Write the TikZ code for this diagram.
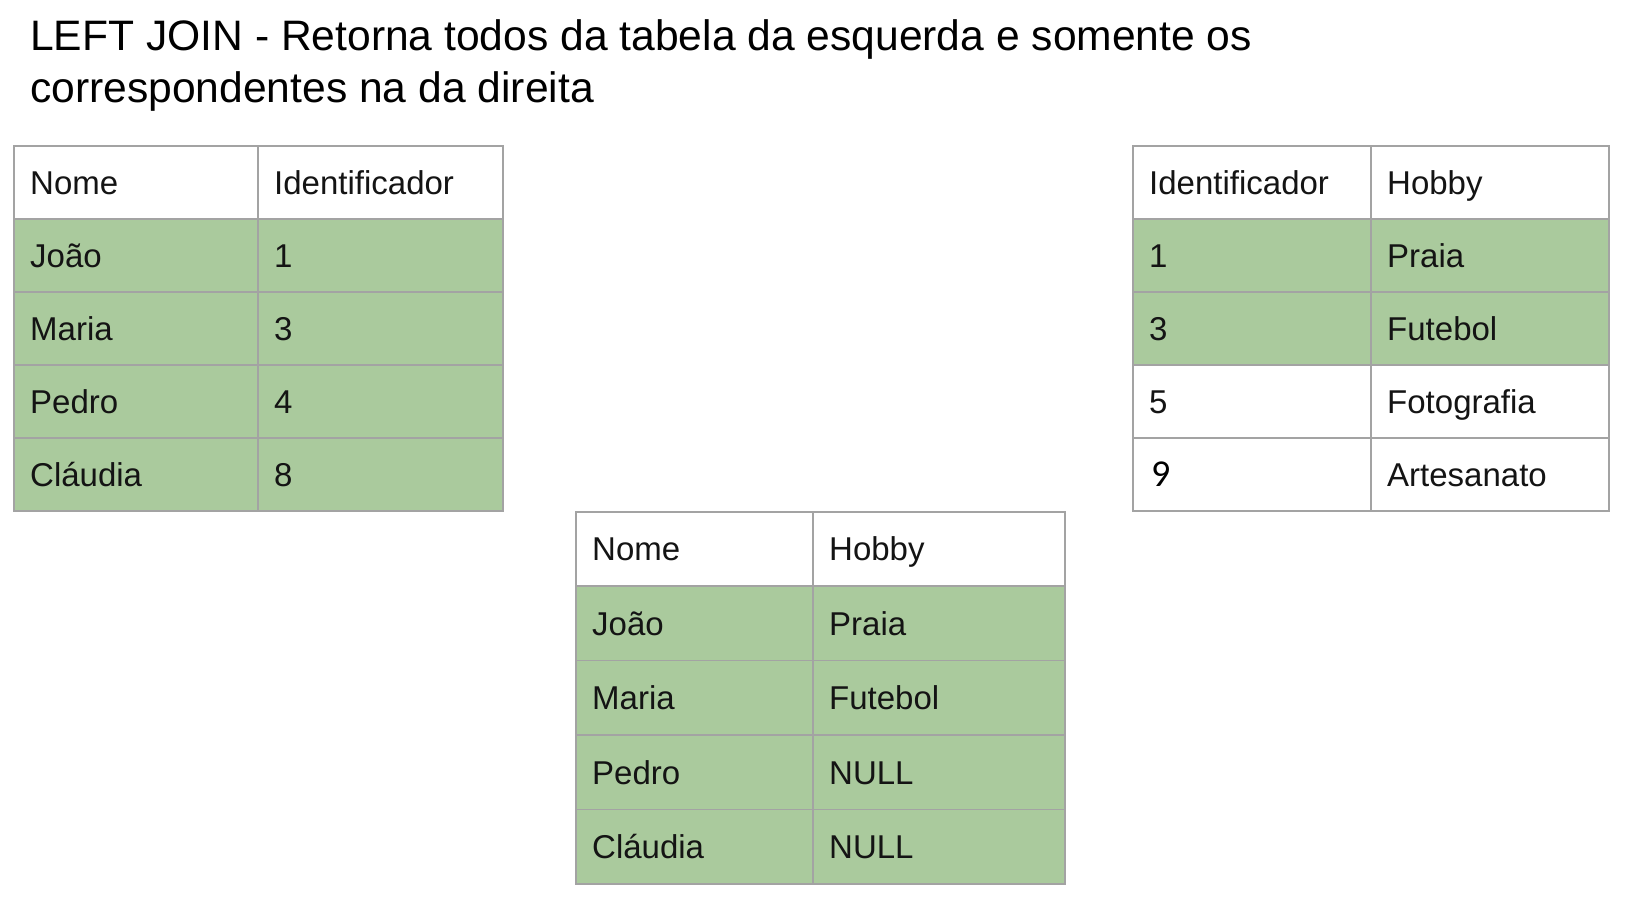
\documentclass[tikz,border=0pt]{standalone}
\usepackage{fontspec}
\setmainfont{Liberation Sans}
\newfontfamily\calibrifont[Numbers=Lining]{Carlito}
\definecolor{cellgreen}{HTML}{AACA9D}
\definecolor{gridgray}{HTML}{A3A3A3}
\definecolor{celltext}{HTML}{141414}
\tikzset{
  cellbox/.style={rectangle, draw=gridgray, line width=1.6pt, anchor=north west, inner sep=0pt},
  celltxt/.style={anchor=west, inner sep=0pt, text height=23.6pt, text depth=0pt,
    font=\fontsize{33}{36}\selectfont, text=celltext},
  titletxt/.style={anchor=base west, inner sep=0pt, font=\fontsize{42.6}{52}\selectfont, text=black}
}
\newcommand\tcell[7]{%
  \node[cellbox, fill=#6, minimum width=#4pt, minimum height=#5pt] (#1) at (#2,#3) {};
  \node[celltxt] (#1-t) at ([xshift=17pt]#1.west) {#7};}
\begin{document}
\begin{tikzpicture}[x=1pt,y=-1pt]
\fill[white] (0,0) rectangle (1629,903);
\useasboundingbox (0,0) rectangle (1629,903);
% title
\node[titletxt] (title1) at (30,50) {LEFT JOIN - Retorna todos da tabela da esquerda e somente os};
\node[titletxt] (title2) at (30,102) {correspondentes na da direita};
% left table
\tcell{L00}{13}{145}{244}{73}{white}{Nome}
\tcell{L01}{257}{145}{245}{73}{white}{Identificador}
\tcell{L10}{13}{218}{244}{73}{cellgreen}{João}
\tcell{L11}{257}{218}{245}{73}{cellgreen}{1}
\tcell{L20}{13}{291}{244}{73}{cellgreen}{Maria}
\tcell{L21}{257}{291}{245}{73}{cellgreen}{3}
\tcell{L30}{13}{364}{244}{73}{cellgreen}{Pedro}
\tcell{L31}{257}{364}{245}{73}{cellgreen}{4}
\tcell{L40}{13}{437}{244}{73}{cellgreen}{Cláudia}
\tcell{L41}{257}{437}{245}{73}{cellgreen}{8}
% right table
\tcell{R00}{1132}{145}{238}{73}{white}{Identificador}
\tcell{R01}{1370}{145}{238}{73}{white}{Hobby}
\tcell{R10}{1132}{218}{238}{73}{cellgreen}{1}
\tcell{R11}{1370}{218}{238}{73}{cellgreen}{Praia}
\tcell{R20}{1132}{291}{238}{73}{cellgreen}{3}
\tcell{R21}{1370}{291}{238}{73}{cellgreen}{Futebol}
\tcell{R30}{1132}{364}{238}{73}{white}{5}
\tcell{R31}{1370}{364}{238}{73}{white}{Fotografia}
\node[cellbox, fill=white, minimum width=238pt, minimum height=73pt] (R40) at (1132,437) {};
\node[anchor=base west, inner sep=0pt, font=\calibrifont\fontsize{38}{40}\selectfont, text=black] (R40-t) at ([xshift=19pt,yshift=-12pt]R40.west) {9};
\tcell{R41}{1370}{437}{238}{73}{white}{Artesanato}
% result table
\tcell{B00}{575}{511}{237}{74.4}{white}{Nome}
\tcell{B01}{812}{511}{252}{74.4}{white}{Hobby}
\tcell{B10}{575}{585.4}{237}{74.4}{cellgreen}{João}
\tcell{B11}{812}{585.4}{252}{74.4}{cellgreen}{Praia}
\tcell{B20}{575}{659.8}{237}{74.4}{cellgreen}{Maria}
\tcell{B21}{812}{659.8}{252}{74.4}{cellgreen}{Futebol}
\tcell{B30}{575}{734.2}{237}{74.4}{cellgreen}{Pedro}
\tcell{B31}{812}{734.2}{252}{74.4}{cellgreen}{NULL}
\tcell{B40}{575}{808.6}{237}{74.4}{cellgreen}{Cláudia}
\tcell{B41}{812}{808.6}{252}{74.4}{cellgreen}{NULL}
\end{tikzpicture}
\end{document}
